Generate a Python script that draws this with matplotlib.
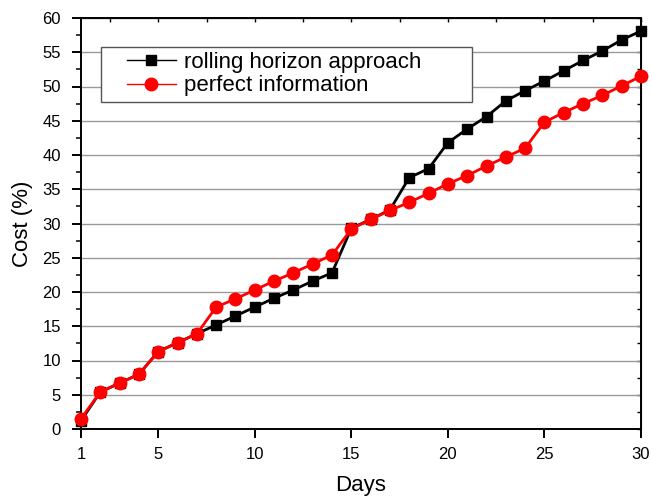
import numpy as np
import matplotlib
matplotlib.use("Agg")
import matplotlib.pyplot as plt
import matplotlib.patches as mpatches
from matplotlib.ticker import MultipleLocator, FixedLocator

plt.rcParams["font.family"] = ["Liberation Sans", "DejaVu Sans"]

# ── data ──────────────────────────────────────────────────────────────────────
days = list(range(1, 31))
rolling = [1.2, 5.4, 6.7, 8.0, 11.3, 12.6, 13.9, 15.2, 16.5, 17.8,
           19.1, 20.3, 21.6, 22.8, 29.3, 30.6, 32.0, 36.7, 38.0, 41.8,
           43.8, 45.6, 47.9, 49.4, 50.8, 52.3, 53.8, 55.2, 56.8, 58.1]
perfect = [1.5, 5.4, 6.7, 8.0, 11.3, 12.6, 13.9, 17.8, 19.0, 20.3,
           21.6, 22.8, 24.1, 25.4, 29.2, 30.6, 31.9, 33.1, 34.4, 35.8,
           37.0, 38.4, 39.7, 41.0, 44.8, 46.2, 47.5, 48.7, 50.1, 51.5]
xticks = [1, 5, 10, 15, 20, 25, 30]

fig = plt.figure(figsize=(6.52, 4.96), dpi=100)
ax = fig.add_axes([81 / 652, 1 - 429 / 496, 560 / 652, 411 / 496])

ax.plot(days, rolling, color="black", lw=2.0, marker="s", ms=7.5,
        label="rolling horizon approach", zorder=3, clip_on=False)
ax.plot(days, perfect, color="#ff0000", lw=2.0, marker="o", ms=9,
        label="perfect information", zorder=4, clip_on=False)

ax.set_xlim(1, 30)
ax.set_ylim(0, 60)
ax.xaxis.set_major_locator(FixedLocator(xticks))
ax.yaxis.set_major_locator(MultipleLocator(5))
ax.yaxis.set_minor_locator(MultipleLocator(2.5))
ax.grid(axis="y", which="major", color="#999999", lw=1.0, zorder=0)

ax.tick_params(axis="both", which="major", direction="out", length=6.5,
               width=1.4, labelsize=12, top=False, right=False)
ax.tick_params(axis="x", which="major", pad=6.5)
ax.tick_params(axis="y", which="major", pad=8)
ax.tick_params(axis="y", which="minor", direction="out", length=3.5, width=1.1)
for s in ax.spines.values():
    s.set_linewidth(1.4)

# mirrored inward ticks on top and right
top = ax.secondary_xaxis("top")
top.xaxis.set_major_locator(MultipleLocator(2.5))
top.tick_params(direction="in", length=3, width=1.0, labeltop=False)
right = ax.secondary_yaxis("right")
right.yaxis.set_major_locator(MultipleLocator(2.5))
right.tick_params(direction="in", length=3, width=1.0, labelright=False)

ax.set_xlabel("Days", fontsize=16, labelpad=9)
ax.set_ylabel("Cost (%)", fontsize=16, labelpad=7)

# legend frame drawn separately (Origin-style box wider than its content)
box = mpatches.Rectangle((0.0357, 0.7956), 0.6625, 0.1338, transform=ax.transAxes,
                         facecolor="white", edgecolor="#555555", lw=1.0,
                         zorder=4.8, clip_on=False)
ax.add_patch(box)
leg = ax.legend(loc="upper left", bbox_to_anchor=(0.082, 0.918), fontsize=16,
                frameon=False, borderpad=0, handlelength=2.2,
                handletextpad=0.36, labelspacing=0.12, borderaxespad=0)
leg.set_zorder(5)
for h in leg.get_lines():
    h.set_linewidth(1.0)

fig.savefig("out.png", dpi=100)
